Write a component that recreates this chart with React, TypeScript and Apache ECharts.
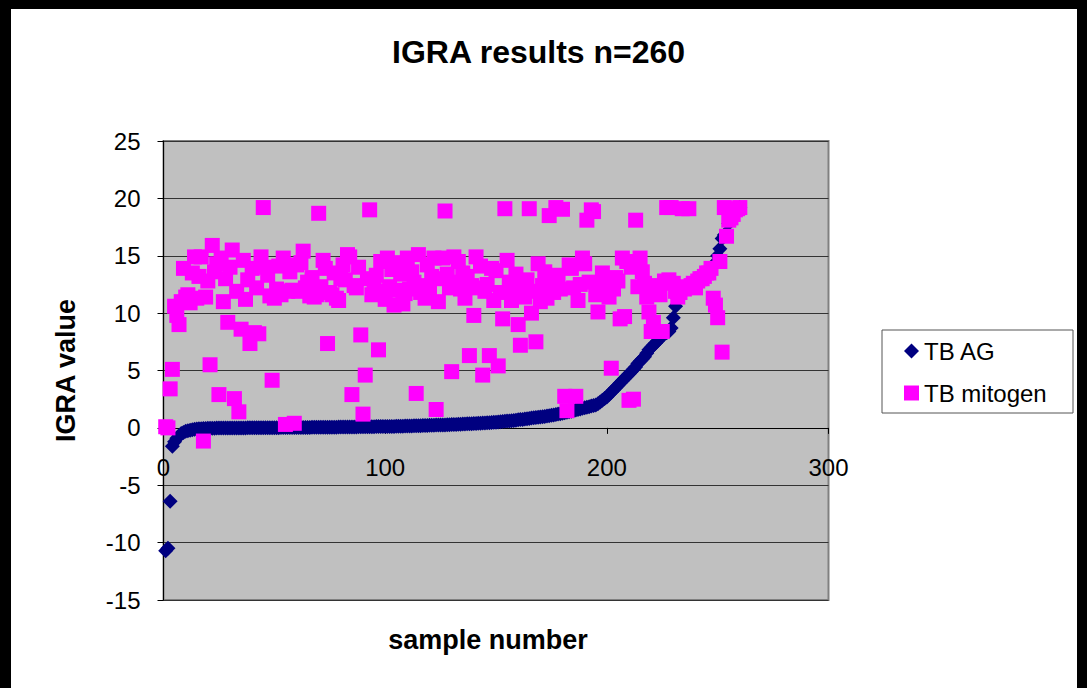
import React, { useEffect, useRef } from "react";
import * as echarts from "echarts";

const chartTitle = "IGRA results n=260";
const xAxisName = "sample number";
const yAxisName = "IGRA value";
const seriesNames = ["TB AG", "TB mitogen"];

// TB AG values, sorted ascending (sample number = position 1..260)
const tbAg = [
  -10.7, -10.5, -6.4, -1.6, -1.2, -0.9, -0.7, -0.5, -0.4, -0.3,
  -0.25, -0.2, -0.16, -0.13, -0.1, -0.08, -0.07, -0.06, -0.05, -0.04,
  -0.04, -0.03, -0.03, -0.02, -0.02, -0.02, -0.01, -0.01, -0.01, 0,
  0, 0, 0, 0, 0, 0, 0, 0.01, 0.01, 0.01,
  0.01, 0.01, 0.01, 0.01, 0.02, 0.02, 0.02, 0.02, 0.02, 0.02,
  0.02, 0.02, 0.03, 0.03, 0.03, 0.03, 0.03, 0.03, 0.03, 0.04,
  0.04, 0.04, 0.04, 0.04, 0.04, 0.04, 0.05, 0.05, 0.05, 0.05,
  0.05, 0.05, 0.05, 0.06, 0.06, 0.06, 0.06, 0.06, 0.07, 0.07,
  0.07, 0.07, 0.07, 0.08, 0.08, 0.08, 0.08, 0.09, 0.09, 0.09,
  0.09, 0.1, 0.1, 0.1, 0.1, 0.11, 0.11, 0.11, 0.12, 0.12,
  0.12, 0.13, 0.13, 0.13, 0.14, 0.14, 0.15, 0.15, 0.16, 0.16,
  0.17, 0.17, 0.18, 0.18, 0.19, 0.19, 0.2, 0.2, 0.21, 0.22,
  0.22, 0.23, 0.24, 0.24, 0.25, 0.26, 0.26, 0.27, 0.28, 0.29,
  0.3, 0.3, 0.31, 0.32, 0.33, 0.34, 0.35, 0.36, 0.37, 0.38,
  0.39, 0.4, 0.41, 0.42, 0.43, 0.44, 0.45, 0.46, 0.48, 0.5,
  0.51, 0.53, 0.55, 0.57, 0.59, 0.61, 0.63, 0.65, 0.67, 0.7,
  0.72, 0.74, 0.77, 0.8, 0.82, 0.85, 0.88, 0.9, 0.92, 0.95,
  0.97, 1.0, 1.03, 1.06, 1.1, 1.13, 1.16, 1.2, 1.24, 1.28,
  1.32, 1.36, 1.4, 1.45, 1.5, 1.55, 1.6, 1.65, 1.7, 1.75,
  1.8, 1.85, 1.9, 1.95, 2.0, 2.1, 2.25, 2.4, 2.55, 2.7,
  2.9, 3.1, 3.3, 3.5, 3.7, 3.9, 4.1, 4.3, 4.5, 4.7,
  4.9, 5.1, 5.3, 5.6, 5.8, 6.0, 6.2, 6.5, 6.8, 7.0,
  7.2, 7.4, 7.6, 7.8, 8.0, 8.2, 8.3, 8.4, 8.7, 9.6,
  10.6, 11.3, 11.7, 11.9, 12.1, 12.3, 12.4, 12.5, 12.6, 12.7,
  12.8, 13.0, 13.1, 13.3, 13.5, 13.6, 13.9, 14.1, 14.4, 15.0,
  15.6, 16.5, 16.8, 17.0, 17.8, 18.2, 18.6, 19.0, 19.1, 19.2,
];

// TB mitogen values for the same samples
const tbMitogen = [
  0.1, 0.0, 3.4, 5.1, 10.6, 9.8, 9.0, 11.0, 13.9, 11.4,
  11.6, 10.9, 13.5, 14.9, 11.3, 13.2, 14.9, -1.15, 11.4, 12.8,
  5.5, 15.9, 13.6, 14.3, 2.9, 14.8, 11.0, 13.0, 9.2, 14.0,
  15.5, 2.55, 11.9, 1.4, 8.6, 14.6, 11.2, 12.9, 7.35, 13.9,
  8.3, 12.2, 8.2, 14.9, 19.2, 14.0, 13.3, 11.5, 4.15, 11.3,
  12.1, 14.1, 11.6, 14.8, 0.3, 11.9, 13.6, 12.0, 0.4, 14.2,
  11.9, 14.4, 15.4, 12.2, 12.7, 11.5, 13.1, 11.4, 11.6, 18.7,
  12.3, 14.6, 13.9, 7.35, 11.8, 11.6, 13.5, 11.3, 11.1, 13.0,
  14.2, 12.9, 15.1, 14.9, 2.9, 12.4, 12.2, 14.0, 8.1, 1.2,
  4.6, 13.0, 19.0, 11.6, 12.5, 13.3, 6.8, 14.5, 11.9, 11.2,
  14.8, 12.3, 13.8, 10.7, 12.0, 14.4, 13.4, 10.8, 11.7, 14.8,
  12.1, 13.6, 12.7, 3.0, 15.1, 11.8, 12.4, 11.3, 14.2, 12.0,
  13.2, 14.8, 1.6, 11.0, 13.0, 14.8, 18.9, 13.4, 12.2, 4.9,
  14.9, 12.7, 14.5, 12.1, 13.5, 11.3, 13.2, 6.3, 12.4, 9.8,
  14.9, 12.2, 14.1, 4.6, 11.9, 12.5, 6.3, 13.9, 11.1, 13.7,
  5.4, 11.8, 9.5, 19.1, 14.6, 12.7, 11.1, 12.3, 13.4, 9.0,
  7.2, 12.0, 11.4, 12.9, 19.1, 10.0, 11.9, 7.5, 14.3, 11.0,
  12.4, 13.6, 11.3, 18.5, 12.7, 11.8, 19.2, 13.3, 12.1, 19.05,
  2.75, 1.5, 14.2, 13.9, 12.2, 2.75, 11.1, 12.5, 14.8, 14.3,
  18.1, 12.7, 19.0, 18.85, 11.6, 10.1, 12.3, 13.5, 13.0, 12.7,
  11.4, 5.2, 12.1, 13.1, 12.8, 9.5, 14.8, 9.7, 14.5, 2.4,
  14.0, 2.5, 18.1, 12.3, 14.8, 13.6, 12.6, 11.4, 10.1, 8.4,
  9.2, 12.1, 12.4, 11.6, 8.4, 12.8, 19.2, 12.9, 19.2, 12.6,
  11.9, 11.4, 11.8, 19.1, 12.1, 12.3, 19.1, 12.4, 12.6, 12.2,
  12.8, 13.0, 13.0, 13.2, 13.5, 13.5, 13.9, 11.3, 10.7, 9.6,
  14.5, 6.6, 19.2, 16.7, 18.1, 18.3, 18.6, 19.0, 19.1, 19.2,
];

const xMin = 0;
const xMax = 300;
const xStep = 100;
const yMin = -15;
const yMax = 25;
const yStep = 5;

const FONT = "'Liberation Sans', Arial, sans-serif";

// plot geometry
const GRID_TOP = 141;
const GRID_H = 459;
const ZERO_OFFSET = (GRID_H * (0 - yMin)) / (yMax - yMin); // distance from bottom edge to y=0

export default function App() {
  const ref = useRef<HTMLDivElement>(null);

  useEffect(() => {
    document.body.style.margin = "0";
    const chart = echarts.init(ref.current!, null, { renderer: "svg" });
    chart.setOption({
      animation: false,
      backgroundColor: "#000000",
      textStyle: { fontFamily: FONT },
      title: {
        text: chartTitle,
        left: 387,
        top: 31,
        textStyle: { fontSize: 32, fontWeight: "bold", color: "#000", fontFamily: FONT },
      },
      graphic: [
        {
          type: "rect",
          z: -10,
          silent: true,
          shape: { x: 11, y: 9, width: 1066, height: 700 },
          style: { fill: "#ffffff" },
        },
        {
          type: "rect",
          z: 1,
          silent: true,
          shape: { x: 882, y: 330, width: 191, height: 83 },
          style: { fill: "#ffffff", stroke: "#555555", lineWidth: 1 },
        },
      ],
      legend: {
        orient: "vertical",
        left: 899,
        top: 334,
        itemWidth: 15,
        itemHeight: 15,
        itemGap: 18,
        z: 5,
        textStyle: { fontSize: 24, color: "#000", fontFamily: FONT },
        data: [
          { name: seriesNames[0], icon: "diamond" },
          { name: seriesNames[1], icon: "rect" },
        ],
      },
      grid: {
        left: 163.5,
        top: GRID_TOP,
        width: 665,
        height: GRID_H,
        show: true,
        outerBoundsMode: "none",
        containLabel: false,
        backgroundColor: "#C0C0C0",
        borderColor: "#808080",
        borderWidth: 2,
      },
      xAxis: {
        type: "value",
        min: xMin,
        max: xMax,
        interval: xStep,
        position: "bottom",
        offset: -ZERO_OFFSET,
        name: xAxisName,
        nameLocation: "middle",
        nameGap: 199,
        nameMoveOverlap: false,
        nameTextStyle: {
          fontSize: 27,
          fontWeight: "bold",
          color: "#000",
          fontFamily: FONT,
          padding: [0, 16, 0, 0],
        },
        axisLine: { show: true, onZero: false, lineStyle: { color: "#000", width: 1 } },
        axisTick: { show: true, length: 6, lineStyle: { color: "#000" } },
        axisLabel: { fontSize: 24, color: "#000", margin: 28, fontFamily: FONT },
        splitLine: { show: false },
      },
      yAxis: {
        type: "value",
        min: yMin,
        max: yMax,
        interval: yStep,
        name: yAxisName,
        nameLocation: "middle",
        nameGap: 84,
        nameTextStyle: { fontSize: 27, fontWeight: "bold", color: "#000", fontFamily: FONT },
        axisLine: { show: true, lineStyle: { color: "#000", width: 1 } },
        axisTick: { show: true, length: 6, lineStyle: { color: "#000" } },
        axisLabel: { fontSize: 24, color: "#000", margin: 23, fontFamily: FONT },
        splitLine: { show: true, lineStyle: { color: "#333333", width: 1 } },
      },
      series: [
        {
          name: seriesNames[0],
          type: "scatter",
          symbol: "diamond",
          symbolSize: 15,
          itemStyle: { color: "#000080", opacity: 1 },
          data: tbAg.map((v, i) => [i + 1, v]),
        },
        {
          name: seriesNames[1],
          type: "scatter",
          symbol: "rect",
          symbolSize: 15,
          itemStyle: { color: "#FF00FF", opacity: 1 },
          data: tbMitogen.map((v, i) => [i + 1, v]),
        },
      ],
    });
    return () => chart.dispose();
  }, []);

  return (
    <div
      ref={ref}
      style={{ position: "absolute", left: 0, top: 0, width: 1087, height: 688 }}
    />
  );
}
